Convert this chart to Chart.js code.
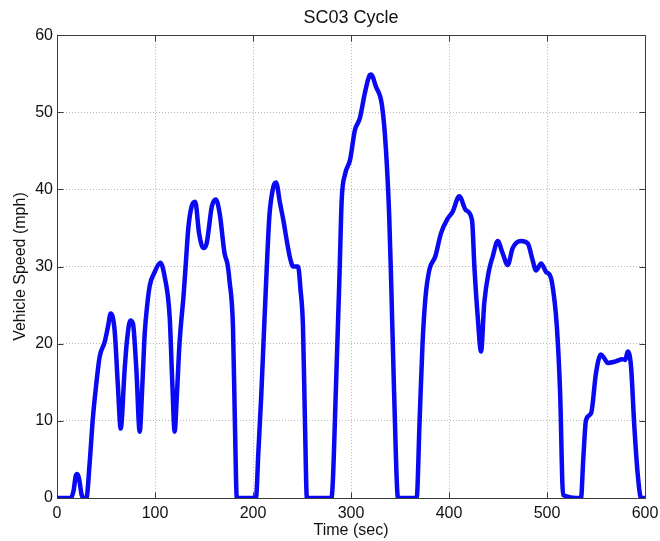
<!DOCTYPE html>
<html><head><meta charset="utf-8">
<script src="https://cdn.jsdelivr.net/npm/chart.js@4.4.0/dist/chart.umd.min.js"></script>
<style>html,body{margin:0;padding:0;background:#fff}#wrap{width:660px;height:541px}</style>
</head><body><div id="wrap"><canvas id="c" width="660" height="541"></canvas></div>
<script>
const chartTitle = 'SC03 Cycle';
const xLabel = 'Time (sec)';
const yLabel = 'Vehicle Speed (mph)';
const xTickValues = [0, 100, 200, 300, 400, 500, 600];
const yTickValues = [0, 10, 20, 30, 40, 50, 60];
const timeSec = [
  0, 14, 17, 19, 20.7, 22.5, 25, 27, 30,
  33.3, 36.7, 40.1, 43.5, 48.6, 52, 54.8, 58.8, 62.2, 65,
  69, 71.4, 74.8, 77.5, 81, 84.4,
  87, 89.5, 91.8, 94.6, 99.7, 105.4, 110, 115, 117.7, 120,
  122.4, 125, 129.3, 131.5, 134, 137.4, 141, 145, 149.3, 152.7, 158, 162, 166, 171, 174, 176, 179.6, 181.5, 183.5,
  203, 205.5, 208.5, 211, 213.6, 216.7, 220.7, 223.5, 227.6, 231, 234.4, 237.8, 241, 246, 248.5, 251, 253, 255,
  280, 285, 288.4, 290.5, 294, 299, 304, 309, 314, 319, 320.4, 325.5, 331.6, 335.7, 339, 341, 344, 348,
  367, 370, 373, 376, 380, 386, 391.8, 398.6, 403.7, 410.5, 417.3, 423.5, 425.9, 429.3, 432.7, 436, 441,
  444.6, 449.7, 454.8, 459.9, 465, 473.5, 480.3, 485.4, 488.8, 494, 499, 502.4, 505, 510, 513.4, 516.4,
  534.7, 537, 539.8, 545, 550, 555, 558, 562, 570, 577, 580, 582.3, 585.7, 589.1, 592.5, 596, 600
];
const speedMph = [
  0, 0, 1, 2.8, 3.1, 2.5, 0.5, 0, 0,
  4.5, 10.5, 14.8, 18.3, 20.2, 22.2, 23.9, 21.7, 14.4, 9,
  16.6, 20.4, 23, 22.6, 16.6, 8.6,
  14.4, 21.3, 24.7, 27.5, 29.3, 30.5, 28.6, 23.4, 14.8, 8.6,
  13.5, 20, 26.5, 30.5, 35, 37.8, 38.4, 34.3, 32.4, 33, 37.8, 38.7, 36.9, 31.7, 30.3, 28.2, 22, 10, 0,
  0, 6, 13.5, 21, 28.6, 36.5, 40.3, 40.9, 38.2, 36, 33.4, 31.1, 30, 30, 27, 22.2, 10, 0,
  0, 15.7, 29.5, 38.6, 42, 43.8, 47.7, 49.2, 52.4, 54.8, 54.9, 53.3, 50.9, 45.1, 36.5, 28, 13.6, 0,
  0, 10, 20, 26, 29.6, 31.3, 34.3, 36.2, 37.1, 39.1, 37.3, 36, 30, 23.5, 19, 25.3, 29.6,
  31.3, 33.3, 31.7, 30.2, 32.4, 33.3, 33, 30.8, 29.5, 30.4, 29.3, 29, 28, 22.3, 13.6, 0.4,
  0, 5, 10.1, 11, 16.2, 18.6, 18.2, 17.5, 17.7, 18, 17.9, 19, 17.1, 9.3, 3.2, 0, 0
];

const points = timeSec.map((t, i) => ({ x: t, y: speedMph[i] }));
const FONT = "'Liberation Sans', Arial, Helvetica, sans-serif";

const framePlugin = {
  id: 'frame',
  beforeDatasetsDraw(chart) {
    const { ctx, chartArea: a, scales } = chart;
    ctx.save();
    ctx.strokeStyle = '#3a3a3a';
    ctx.lineWidth = 1;
    const L = Math.round(a.left) + 0.5, R = Math.round(a.right) + 0.5;
    const T = Math.round(a.top) + 0.5, B = Math.round(a.bottom) + 0.5;
    ctx.strokeRect(L, T, R - L, B - T);
    const tl = 6;
    ctx.beginPath();
    xTickValues.forEach(v => {
      const x = Math.round(scales.x.getPixelForValue(v)) + 0.5;
      ctx.moveTo(x, B); ctx.lineTo(x, B - tl);
      ctx.moveTo(x, T); ctx.lineTo(x, T + tl);
    });
    yTickValues.forEach(v => {
      const y = Math.round(scales.y.getPixelForValue(v)) + 0.5;
      ctx.moveTo(L, y); ctx.lineTo(L + tl, y);
      ctx.moveTo(R, y); ctx.lineTo(R - tl, y);
    });
    ctx.stroke();
    ctx.restore();
  }
};

new Chart(document.getElementById('c'), {
  type: 'scatter',
  data: {
    datasets: [{
      data: points,
      showLine: true,
      borderColor: '#0a0af2',
      borderWidth: 4.5,
      pointRadius: 0,
      pointHoverRadius: 0,
      cubicInterpolationMode: 'monotone',
      fill: false,
      borderJoinStyle: 'round',
      borderCapStyle: 'round'
    }]
  },
  options: {
    responsive: false,
    animation: false,
    events: [],
    layout: { padding: { left: 0, right: 15, top: 0, bottom: 0 } },
    plugins: {
      legend: { display: false },
      tooltip: { enabled: false },
      title: {
        display: true,
        fullSize: false,
        text: chartTitle,
        color: '#111',
        font: { family: FONT, size: 18, weight: 'normal', lineHeight: 1.2 },
        padding: { top: 7.5, bottom: 6 }
      }
    },
    scales: {
      x: {
        type: 'linear',
        min: 0, max: 600,
        afterFit(s) { s.height = 43; s.paddingLeft = 0; s.paddingRight = 0; },
        afterBuildTicks(s) { s.ticks = xTickValues.map(v => ({ value: v })); },
        ticks: { color: '#111', font: { family: FONT, size: 16 }, padding: 6, maxRotation: 0 },
        grid: { color: '#b8b8b8', lineWidth: 1, drawTicks: false },
        border: { display: false, dash: [1, 2] },
        title: {
          display: true, text: xLabel, color: '#111',
          font: { family: FONT, size: 16, lineHeight: 1.2 },
          padding: { top: 0, bottom: 1 }
        }
      },
      y: {
        type: 'linear',
        min: 0, max: 60,
        afterFit(s) { s.width = 57; s.paddingTop = 0; s.paddingBottom = 0; },
        afterBuildTicks(s) { s.ticks = yTickValues.map(v => ({ value: v })); },
        ticks: { color: '#111', font: { family: FONT, size: 16 }, padding: 4 },
        grid: { color: '#b8b8b8', lineWidth: 1, drawTicks: false },
        border: { display: false, dash: [1, 2] },
        title: {
          display: true, text: yLabel, color: '#111',
          font: { family: FONT, size: 16, lineHeight: 1.2 },
          padding: { top: 11, bottom: 0 }
        }
      }
    }
  },
  plugins: [framePlugin]
});
</script>
</body></html>
